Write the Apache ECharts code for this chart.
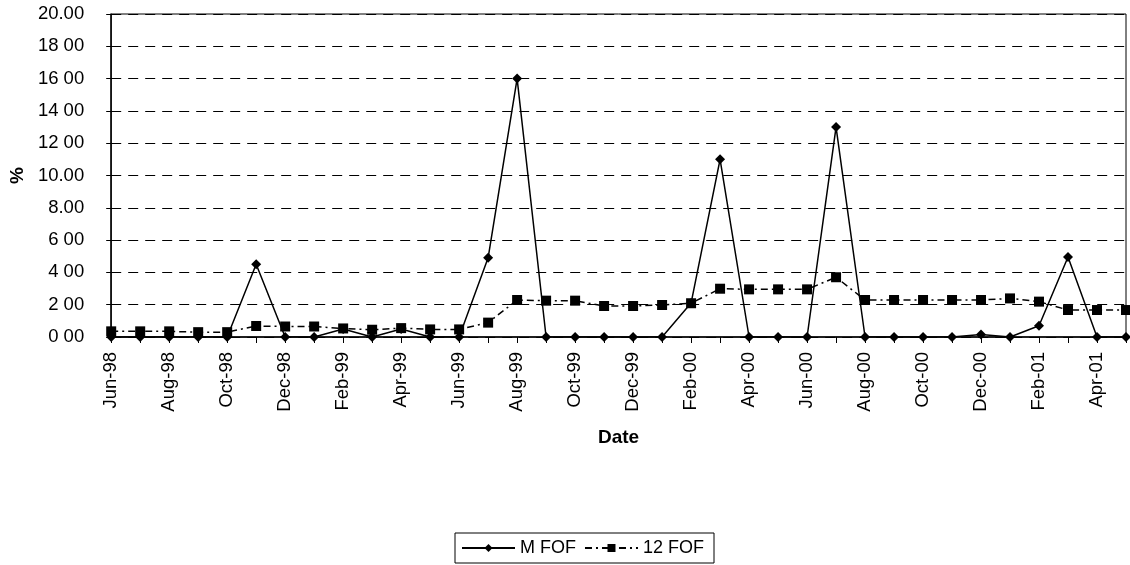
<!DOCTYPE html>
<html>
<head>
<meta charset="utf-8">
<script src="https://cdn.jsdelivr.net/npm/echarts@6/dist/echarts.min.js"></script>
<style>
html,body{margin:0;padding:0;background:#fff;}
#chart{width:1130px;height:565px;}
</style>
</head>
<body>
<div id="chart"></div>
<script>
const categories = ["Jun-98","Jul-98","Aug-98","Sep-98","Oct-98","Nov-98","Dec-98","Jan-99","Feb-99","Mar-99","Apr-99","May-99",
  "Jun-99","Jul-99","Aug-99","Sep-99","Oct-99","Nov-99","Dec-99","Jan-00","Feb-00","Mar-00","Apr-00","May-00",
  "Jun-00","Jul-00","Aug-00","Sep-00","Oct-00","Nov-00","Dec-00","Jan-01","Feb-01","Mar-01","Apr-01","May-01"];
const mFOF = [0,0,0,0,0,4.5,0,0,0.5,0,0.5,0,
  0,4.9,16.0,0,0,0,0,0,2.1,11.0,0,0,
  0,13.0,0,0,0,0,0.15,0,0.7,4.95,0,0];
const fof12 = [0.35,0.35,0.35,0.3,0.3,0.68,0.65,0.65,0.53,0.45,0.55,0.47,
  0.47,0.89,2.29,2.25,2.25,1.92,1.92,1.98,2.09,2.99,2.95,2.95,
  2.95,3.7,2.29,2.29,2.29,2.29,2.29,2.39,2.19,1.67,1.67,1.67];
const yTickLabels = ["0 00","2 00","4 00","6 00","8.00","10.00","12 00","14 00","16 00","18 00","20.00"];

const chart = echarts.init(document.getElementById('chart'), null, {renderer:'canvas'});
const font = 'Liberation Sans, Arial, Helvetica, sans-serif';
chart.setOption({
  animation:false,
  backgroundColor:'#fff',
  textStyle:{fontFamily:font,color:'#000'},
  grid:{left:107,right:4,top:14,bottom:228,show:true,borderColor:'#000',borderWidth:1},
  xAxis:{
    type:'category',data:categories,boundaryGap:false,
    name:'Date',nameLocation:'middle',nameGap:91,
    nameTextStyle:{fontSize:19,fontWeight:'bold',color:'#000',fontFamily:font},
    axisLine:{lineStyle:{color:'#000',width:1.5}},
    axisTick:{show:true,interval:0,length:6,lineStyle:{color:'#000'}},
    axisLabel:{rotate:90,interval:1,fontSize:18.5,color:'#000',margin:15,fontFamily:font},
    splitLine:{show:false}
  },
  yAxis:{
    type:'value',min:0,max:20,interval:2,
    name:'%',nameLocation:'middle',nameGap:83,
    nameTextStyle:{fontSize:19,fontWeight:'bold',color:'#000',fontFamily:font},
    axisLine:{show:true,lineStyle:{color:'#000',width:1.5}},
    axisTick:{show:true,length:5,lineStyle:{color:'#000'}},
    axisLabel:{fontSize:18.5,color:'#000',margin:27,fontFamily:font,
      formatter:function(v){return yTickLabels[Math.round(v/2)];}},
    splitLine:{show:true,lineStyle:{color:'#000',type:[10,7],width:1}}
  },
  legend:{
    left:455,top:533,itemWidth:53,itemHeight:10,itemGap:8,
    padding:[6,10,6,6],borderColor:'#000',borderWidth:1,
    textStyle:{fontSize:18,color:'#000',fontFamily:font},
    data:['M FOF','12 FOF']
  },
  series:[
    {name:'M FOF',type:'line',data:mFOF,symbol:'diamond',symbolSize:10,
     lineStyle:{color:'#000',width:1.5},itemStyle:{color:'#000'},z:3},
    {name:'12 FOF',type:'line',data:fof12,symbol:'rect',symbolSize:10,
     lineStyle:{color:'#000',width:1.5,type:[7,4,2,4]},itemStyle:{color:'#000'},z:2}
  ]
});
</script>
</body>
</html>
